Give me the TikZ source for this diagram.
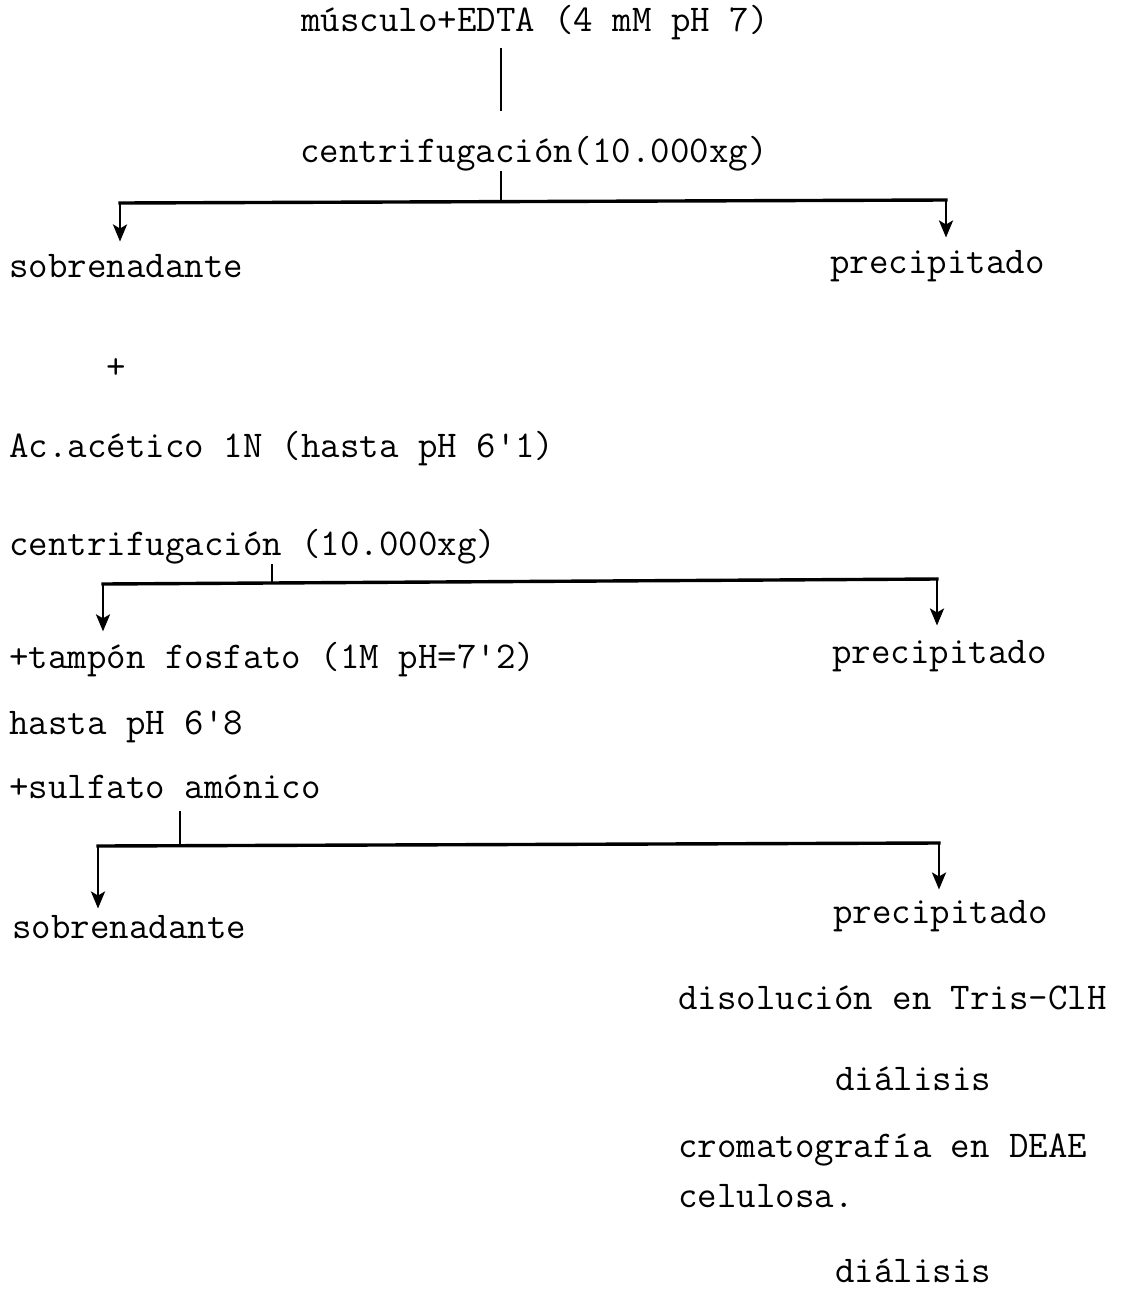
\documentclass[tikz,border=0pt]{standalone}
\usepackage{fontspec}
\usetikzlibrary{arrows.meta}
\tikzset{
  paso/.style={anchor=base west, inner sep=0pt, font=\ttfamily\fontsize{18.9}{22}\selectfont\addfontfeature{FakeBold=0.6}},
  tallo/.style={line width=1pt},
  barra/.style={line width=1.7pt, line cap=rect},
  baja/.style={line width=1.4pt, -{Stealth[length=8.5pt,width=7pt,inset=2pt]}},
}
\begin{document}
\begin{tikzpicture}[x=0.5pt,y=-0.5pt]
                \useasboundingbox (0,0) rectangle (1125,1290);
                % textos
                \node [paso] (musculo) at (301,32) {músculo+EDTA (4 mM pH 7)};
                \node [paso] (centri1) at (300,162) {centrifugación(10.000xg)};
                \node [paso] (sobre1) at (9,277) {sobrenadante};
                \node [paso] (preci1) at (830,273) {precipitado};
                \node [paso] (mas) at (106,378) {+};
                \node [paso] (acetico) at (9,457) {Ac.acético 1N (hasta pH 6'1)};
                \node [paso] (centri2) at (9,555) {centrifugación (10.000xg)};
                \node [paso] (tampon) at (9,668) {+tampón fosfato (1M pH=7'2)};
                \node [paso] (preci2) at (832,663) {precipitado};
                \node [paso] (hasta) at (9,734) {hasta pH 6'8};
                \node [paso] (sulfato) at (9,798) {+sulfato amónico};
                \node [paso] (sobre2) at (12,938) {sobrenadante};
                \node [paso] (preci3) at (833,923) {precipitado};
                \node [paso] (disol) at (678,1009) {disolución en Tris-ClH};
                \node [paso] (dial1) at (835,1090) {diálisis};
                \node [paso] (croma) at (678,1157) {cromatografía en DEAE};
                \node [paso] (celul) at (678,1207) {celulosa.};
                \node [paso] (dial2) at (835,1282) {diálisis};
                % ramas
                \coordinate (j1) at (501,202);
                \coordinate (l1) at (120,203);
                \coordinate (r1) at (946,200);
                \coordinate (j2) at (272,584);
                \coordinate (l2) at (103,584);
                \coordinate (r2) at (937,579);
                \coordinate (j3) at (180,846);
                \coordinate (l3) at (98,846);
                \coordinate (r3) at (939,843);
                \draw [tallo, shorten <=3.5pt, shorten >=12pt] (musculo.south -| j1) -- (centri1.north -| j1);
                \draw [tallo] (centri1.south -| j1) -- (j1);
                \draw [barra] (l1) -- (r1);
                \draw [baja] (l1) -- ([yshift=6pt]l1 |- sobre1.north);
                \draw [baja] (r1) -- ([yshift=6pt]r1 |- preci1.north);
                \draw [tallo] (centri2.south -| j2) -- (j2);
                \draw [barra] (l2) -- (r2);
                \draw [baja] (l2) -- ([yshift=5pt]l2 |- tampon.north);
                \draw [baja] (r2) -- ([yshift=7pt]r2 |- preci2.north);
                \draw [tallo, shorten <=6pt] (sulfato.south -| j3) -- (j3);
                \draw [barra] (l3) -- (r3);
                \draw [baja] (l3) -- ([yshift=3pt]l3 |- sobre2.north);
                \draw [baja] (r3) -- ([yshift=5pt]r3 |- preci3.north);
            \end{tikzpicture}
\end{document}
